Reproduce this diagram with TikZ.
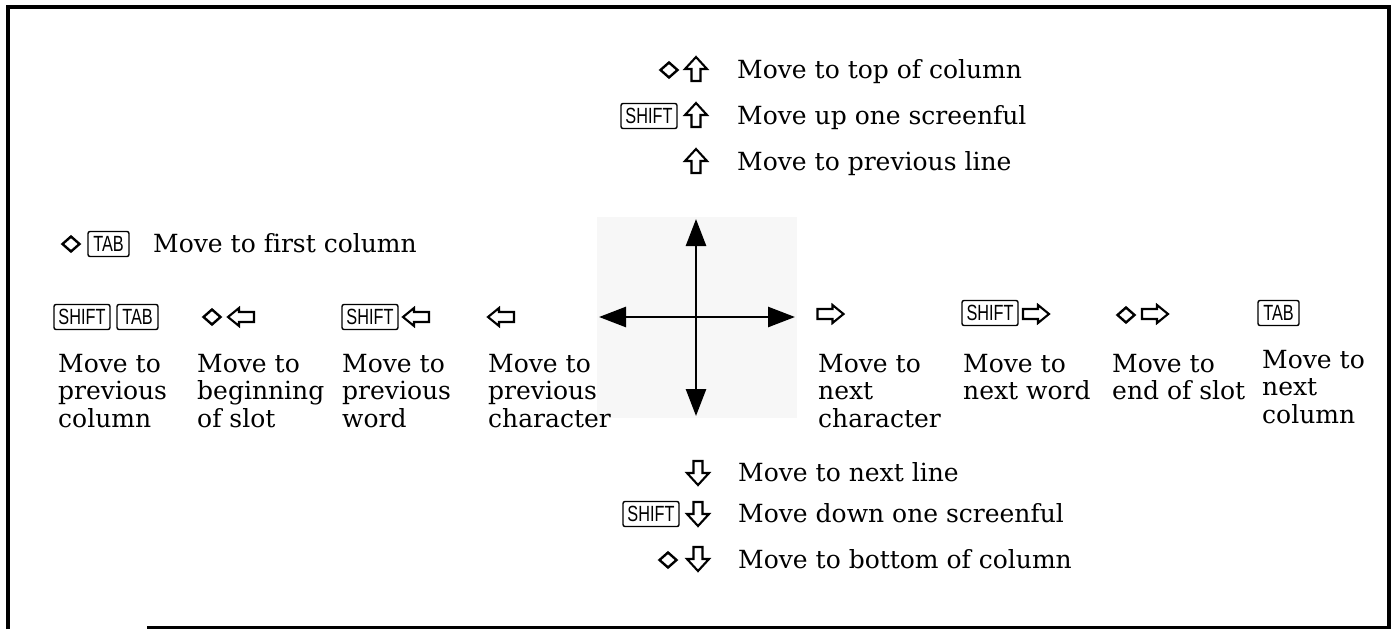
\documentclass[tikz,border=0pt]{standalone}
\usepackage{fontspec}
\usepackage{graphicx}
\setmainfont[Ligatures=NoCommon]{DejaVu Serif}
\newfontfamily\keyfont{Liberation Sans}
\usetikzlibrary{arrows.meta}
\newcommand\kx[1]{\scalebox{0.74}[1]{#1}}
\begin{document}
\begin{tikzpicture}[x=1pt,y=-1pt,
  frame/.style={line width=3.5pt},
  blk/.style={draw, line width=2.1pt, line join=miter, fill=white},
  diam/.style={draw, line width=2.4pt, line join=miter},
  key/.style={draw, rounded corners=2pt, line width=1.4pt, inner sep=0pt, minimum height=25pt, minimum width=56pt, font=\keyfont\fontsize{22}{22}\selectfont},
  tabkey/.style={key, minimum width=41pt},
  one/.style={anchor=base west, inner sep=0pt, font=\fontsize{25}{27.5}\selectfont},
  col/.style={anchor=north west, inner sep=0pt, align=left, font=\fontsize{25}{27.5}\selectfont},
  cross/.style={line width=2.6pt, {Triangle[length=27pt,width=20pt]}-{Triangle[length=27pt,width=20pt]}},
  uarr/.pic={\path[blk] (-4.5,12)--(-4.5,0)--(-11,0)--(0,-12)--(11,0)--(4.5,0)--(4.5,12)--cycle;},
  darr/.pic={\path[blk] (-4.5,-12)--(-4.5,0)--(-11,0)--(0,12)--(11,0)--(4.5,0)--(4.5,-12)--cycle;},
  rarr/.pic={\path[blk] (-13,-5)--(2,-5)--(2,-9)--(13,0)--(2,9)--(2,5)--(-13,5)--cycle;},
  larr/.pic={\path[blk] (13,-5)--(-2,-5)--(-2,-9)--(-13,0)--(-2,9)--(-2,5)--(13,5)--cycle;},
  dia/.pic={\path[diam] (-8.5,0)--(0,-7.5)--(8.5,0)--(0,7.5)--cycle;}
]
\useasboundingbox (0,0) rectangle (1394,629);
% frame
\draw[frame] (8,629)--(8,7)--(1389,7)--(1389,629);
\draw[frame] (147,627.5)--(1389,627.5);

% cross
\fill[black!3] (597,217) rectangle (797,418);
\coordinate (ctop) at (696,219);
\coordinate (cbot) at (696,416);
\coordinate (cleft) at (599,317);
\coordinate (cright) at (795,317);
\draw[cross] (cbot) -- (ctop);
\draw[cross] (cleft) -- (cright);

% top rows
\pic at (669,70) {dia};
\pic at (696,69) {uarr};
\node[one] (t1) at (737,78) {Move to top of column};
\node[key] (ks1) at (649,116) {\kx{SHIFT}};
\pic at (696,115) {uarr};
\node[one] (t2) at (737,124) {Move up one screenful};
\pic at (696,161) {uarr};
\node[one] (t3) at (737,170) {Move to previous line};

% bottom rows
\pic at (698,473) {darr};
\node[one] (b1) at (738,481) {Move to next line};
\node[key] (ks5) at (651,514) {\kx{SHIFT}};
\pic at (698,514) {darr};
\node[one] (b2) at (738,522) {Move down one screenful};
\pic at (668,560) {dia};
\pic at (698,559) {darr};
\node[one] (b3) at (738,568) {Move to bottom of column};

% first column line
\pic at (71,244) {dia};
\node[tabkey] (kt1) at (108.5,244) {\kx{TAB}};
\node[one] (f1) at (153,252) {Move to first column};

% left key row
\node[key] (ks2) at (82,317) {\kx{SHIFT}};
\node[tabkey] (kt2) at (137.5,317) {\kx{TAB}};
\pic at (212,317) {dia};
\pic at (241,317) {larr};
\node[key] (ks3) at (370,317) {\kx{SHIFT}};
\pic at (416,317) {larr};
\pic at (501,317) {larr};

% right key row
\pic at (830.5,314) {rarr};
\node[key] (ks4) at (990,313) {\kx{SHIFT}};
\pic at (1036,314) {rarr};
\pic at (1126,315) {dia};
\pic at (1155,314) {rarr};
\node[tabkey] (kt3) at (1278.5,313) {\kx{TAB}};

% column texts
\node[col] (c1) at (58,354) {Move to\\previous\\column};
\node[col] (c2) at (197,354) {Move to\\beginning\\of slot};
\node[col] (c3) at (342,354) {Move to\\previous\\word};
\node[col] (c4) at (488,354) {Move to\\previous\\character};
\node[col] (c5) at (818,354) {Move to\\next\\character};
\node[col] (c6) at (963,354) {Move to\\next word};
\node[col] (c7) at (1112,354) {Move to\\end of slot};
\node[col] (c8) at (1262,350) {Move to\\next\\column};
\end{tikzpicture}
\end{document}
